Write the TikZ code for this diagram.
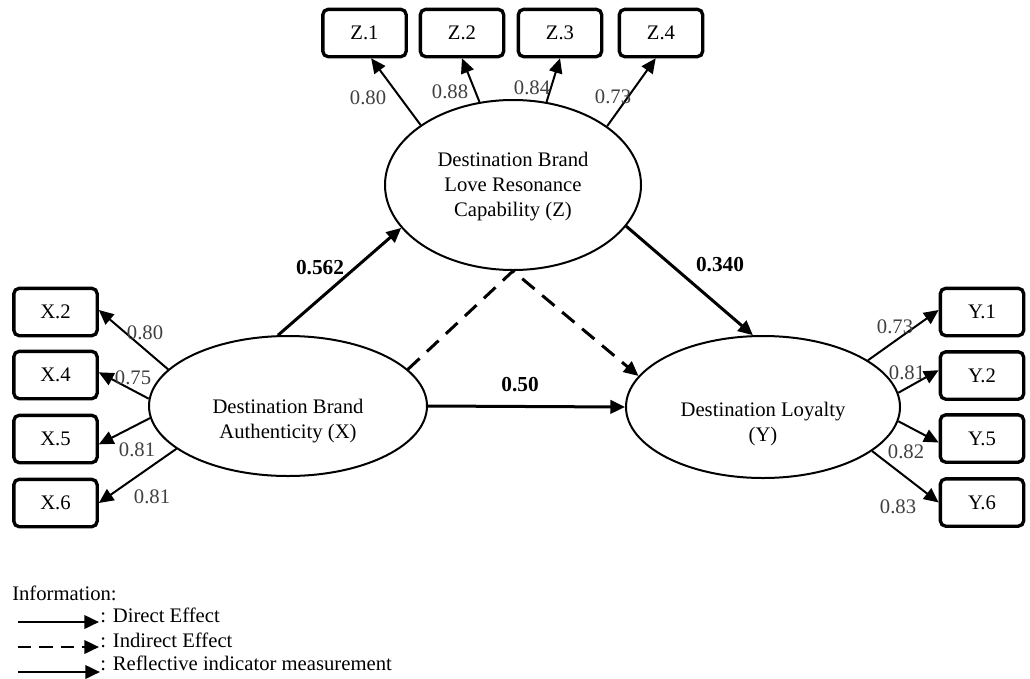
\documentclass[tikz,border=0pt]{standalone}
\usepackage{fontspec}
\setmainfont{Liberation Serif}
\usetikzlibrary{shapes.geometric,arrows.meta}

\begin{document}
\begin{tikzpicture}[x=0.75pt, y=-0.75pt,
    font=\fontsize{15.5}{18.75}\selectfont,
    latent/.style={draw, ellipse, line width=1.5pt, inner sep=0pt},
    indicator/.style={draw, rounded corners=4pt, line width=2.5pt, minimum width=62.5pt, minimum height=35.5pt, inner sep=0pt},
    refl/.style={line width=1.5pt, -{Triangle[length=11pt, width=10pt]}},
    direct/.style={line width=2.25pt, -{Triangle[length=11pt, width=10pt]}},
    indirect/.style={line width=2.25pt, dash pattern=on 12pt off 7.5pt, -{Triangle[length=11pt, width=10pt]}},
    load/.style={text=black!75, inner sep=0pt},
    coef/.style={font=\fontsize{16}{19}\selectfont\bfseries, inner sep=0pt}]
    \useasboundingbox (0,0) rectangle (1030,678);

    % latent variables
    \node[latent, minimum width=192pt, minimum height=127.5pt] (Z) at (513,185) {};
    \node[latent, minimum width=208.5pt, minimum height=105pt] (X) at (288,406) {};
    \node[latent, minimum width=205.5pt, minimum height=106.5pt] (Y) at (763,407) {};
    \node[align=center] (Ztext) at (513,187) {Destination Brand\\Love Resonance\\Capability (Z)};
    \node[align=center] (Xtext) at (288,421) {Destination Brand\\Authenticity (X)};
    \node[align=center] (Ytext) at (763,424) {Destination Loyalty\\(Y)};

    % indicators
    \foreach \n/\y in {2/312, 4/375, 5/439, 6/503}
        \node[indicator] (x\n) at (55.5,\y) {X.\n};
    \foreach \n/\x in {1/364.5, 2/462, 3/560, 4/661}
        \node[indicator] (z\n) at (\x,33) {Z.\n};
    \foreach \n/\y in {1/312, 2/375.5, 5/438.5, 6/502.5}
        \node[indicator] (y\n) at (982,\y) {Y.\n};

    % measurement arrows
    \draw[refl] (X.163) -- ([yshift=1.5pt]x2.east);
    \draw[refl] (X.177) -- ([yshift=2pt]x4.east);
    \draw[refl] (X.185) -- ([yshift=-4pt]x5.east);
    \draw[refl] (X.201) -- (x6.east);
    \draw[refl] (Z.147) -- ([xshift=5pt]z1.south);
    \draw[refl] (Z.112) -- (z2.south);
    \draw[refl] (Z.68) -- (z3.south);
    \draw[refl] (Z.32) -- ([xshift=-4pt]z4.south);
    \draw[refl] (Y.24) -- ([yshift=1.5pt]y1.west);
    \draw[refl] (Y.6) -- ([yshift=4pt]y2.west);
    \draw[refl] (Y.354) -- ([yshift=-3pt]y5.west);
    \draw[refl] (Y.338) -- (y6.west);

    % structural paths
    \draw[direct] (X.98) -- (Z.201);
    \draw[direct] (Z.340) -- (Y.98);
    \draw[direct] (X.east) -- (Y.west);
    \draw[indirect] (X.17) -- (Z.south) -- (Y.166);

    \node[coef] (cxz) at (320,268) {0.562};
    \node[coef] (czy) at (720,265) {0.340};
    \node[coef] (cxy) at (520,385) {0.50};

    % loadings
    \foreach \v/\x/\y [count=\i] in {0.80/145/333, 0.75/133/378, 0.81/137/450, 0.81/152/497}
        \node[load] (lx\i) at (\x,\y) {\v};
    \foreach \v/\x/\y [count=\i] in {0.80/368/98, 0.88/450/92, 0.84/532/88, 0.73/613/97}
        \node[load] (lz\i) at (\x,\y) {\v};
    \foreach \v/\x/\y [count=\i] in {0.73/895/327, 0.81/907/373, 0.82/906/452, 0.83/898/507}
        \node[load] (ly\i) at (\x,\y) {\v};

    % legend
    \node[anchor=west, inner sep=0pt] (info) at (12,593) {Information:};
    \coordinate (d0) at (18,622);  \coordinate (d1) at (99,622);
    \coordinate (i0) at (18,647);  \coordinate (i1) at (99,647);
    \coordinate (r0) at (18,672);  \coordinate (r1) at (100,672);
    \draw[refl, line width=2pt] (d0) -- (d1);
    \draw[indirect, line width=2pt, dash pattern=on 10pt off 6pt] (i0) -- (i1);
    \draw[refl, line width=2pt] (r0) -- (r1);
    \node[anchor=west, inner sep=0pt] (dtext) at (100,615) {: Direct Effect};
    \node[anchor=west, inner sep=0pt] (itext) at (100,640) {: Indirect Effect};
    \node[anchor=west, inner sep=0pt] (rtext) at (100,663) {: Reflective indicator measurement};
\end{tikzpicture}
\end{document}
